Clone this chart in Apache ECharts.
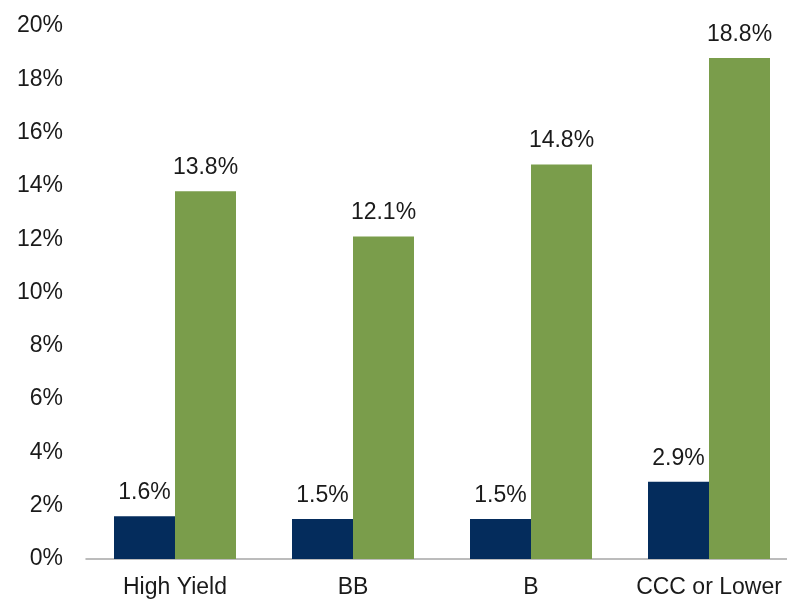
<!DOCTYPE html>
<html><head><meta charset="utf-8">
<script src="https://cdn.jsdelivr.net/npm/echarts@6/dist/echarts.min.js"></script>
<style>html,body{margin:0;padding:0;background:#fff;overflow:hidden}#c{width:800px;height:600px}</style>
</head><body><div id="c"></div>
<script>
var categories = ["High Yield", "BB", "B", "CCC or Lower"];
var seriesA = [1.6, 1.5, 1.5, 2.9];
var seriesB = [13.8, 12.1, 14.8, 18.8];
var yTicks = [0, 2, 4, 6, 8, 10, 12, 14, 16, 18, 20];

var font = "'Liberation Sans', Arial, sans-serif";
var chart = echarts.init(document.getElementById('c'));
chart.setOption({
  animation: false,
  grid: { left: 86, right: 2, top: 26, bottom: 41 },
  xAxis: {
    type: 'category', data: categories,
    axisLine: { show: true, lineStyle: { color: '#a6a6a6', width: 1.5 } },
    axisTick: { show: false },
    axisLabel: { color: '#1a1a1a', fontSize: 23, fontFamily: font, margin: 17, interval: 0 }
  },
  yAxis: {
    type: 'value', min: yTicks[0], max: yTicks[yTicks.length - 1], interval: 2,
    axisLine: { show: false }, axisTick: { show: false }, splitLine: { show: false },
    axisLabel: { color: '#1a1a1a', fontSize: 23, fontFamily: font, margin: 23,
      formatter: function (v) { return v + '%'; } }
  },
  series: [
    { type: 'bar', data: seriesA, barWidth: 61, barGap: '0%',
      itemStyle: { color: '#042c5c' },
      label: { show: true, position: 'top', distance: 12, color: '#1a1a1a', fontSize: 23, fontFamily: font,
        formatter: function (p) { return p.value.toFixed(1) + '%'; } } },
    { type: 'bar', data: seriesB, barWidth: 61,
      itemStyle: { color: '#7a9d4b' },
      label: { show: true, position: 'top', distance: 12, color: '#1a1a1a', fontSize: 23, fontFamily: font,
        formatter: function (p) { return p.value.toFixed(1) + '%'; } } }
  ]
});
</script></body></html>
